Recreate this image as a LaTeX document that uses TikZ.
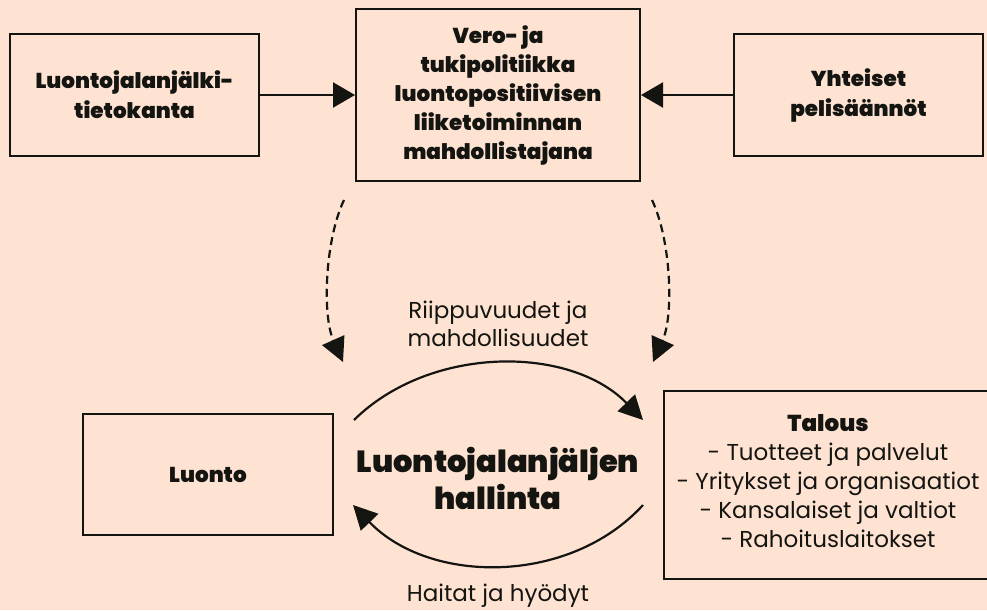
\documentclass[tikz,border=0pt]{standalone}
\usepackage{fontspec}
\setmainfont{Poppins}[BoldFont={Poppins Black}]
\usetikzlibrary{arrows.meta}
\definecolor{bgc}{HTML}{FEE3D3}
\definecolor{ink}{HTML}{141410}
\tikzset{
  box/.style={draw=ink, line width=2pt, fill=bgc, align=center, inner sep=0pt, text=ink},
  boldtxt/.style={font=\fontsize{21.5}{30}\selectfont\bfseries},
  arr/.style={draw=ink, line width=2.2pt, -{Triangle[length=22pt,width=25pt]}},
  dasharr/.style={draw=ink, line width=2.2pt, dash pattern=on 8pt off 5pt, -{Triangle[length=24pt,width=24pt]}},
  arcarr/.style={draw=ink, line width=2.2pt, -{Triangle[length=24pt,width=24pt]}},
  lbl/.style={align=center, text=ink, inner sep=0pt}
}
\begin{document}
\begin{tikzpicture}[x=1pt,y=-1pt]
\fill[bgc] (0,0) rectangle (987,610);
\useasboundingbox (0,0) rectangle (987,610);

\node[box, boldtxt, minimum width=249pt, minimum height=121pt] (dbase) at (134.5,95) {Luontojalanjälki-\\tietokanta};
\node[box, boldtxt, minimum width=284pt, minimum height=172pt, font=\fontsize{21.5}{29}\selectfont\bfseries] (policy) at (498,95) {Vero- ja\\tukipolitiikka\\luontopositiivisen\\liiketoiminnan\\mahdollistajana};
\node[box, boldtxt, minimum width=249pt, minimum height=121pt] (rules) at (858.5,95) {Yhteiset\\pelisäännöt};
\node[box, boldtxt, minimum width=250pt, minimum height=121pt] (nature) at (208,474.5) {Luonto};
\node[box, minimum width=328pt, minimum height=188pt] (economy) at (828,485) {};
\node[lbl, font=\fontsize{23}{29}\selectfont] (econtext) at (828,481) {\textbf{Talous}\\- Tuotteet ja palvelut\\- Yritykset ja organisaatiot\\- Kansalaiset ja valtiot\\- Rahoituslaitokset};

\node[lbl, font=\fontsize{30.5}{37}\selectfont\bfseries] (mgmt) at (498,478) {Luontojalanjäljen\\hallinta};
\node[lbl, font=\fontsize{23}{28}\selectfont] (deps) at (498,324) {Riippuvuudet ja\\mahdollisuudet};
\node[lbl, font=\fontsize{23}{28}\selectfont] (harms) at (498,596) {Haitat ja hyödyt};

\draw[arr] (dbase.east) -- (policy.west);
\draw[arr] (rules.west) -- (policy.east);

\coordinate (dls) at (344,200);
\coordinate (dle) at (343,362);
\coordinate (drs) at (652,200);
\coordinate (dre) at (653,362);
\draw[dasharr] (dls) .. controls (325,240) and (322,315) .. (dle);
\draw[dasharr] (drs) .. controls (671,240) and (674,315) .. (dre);

\coordinate (ts) at (354,420);
\coordinate (te) at (643,420);
\coordinate (bs) at (643,505);
\coordinate (be) at (353,505);
\draw[arcarr] (ts) .. controls (430,345) and (570,345) .. (te);
\draw[arcarr] (bs) .. controls (570,585) and (430,585) .. (be);
\end{tikzpicture}
\end{document}
